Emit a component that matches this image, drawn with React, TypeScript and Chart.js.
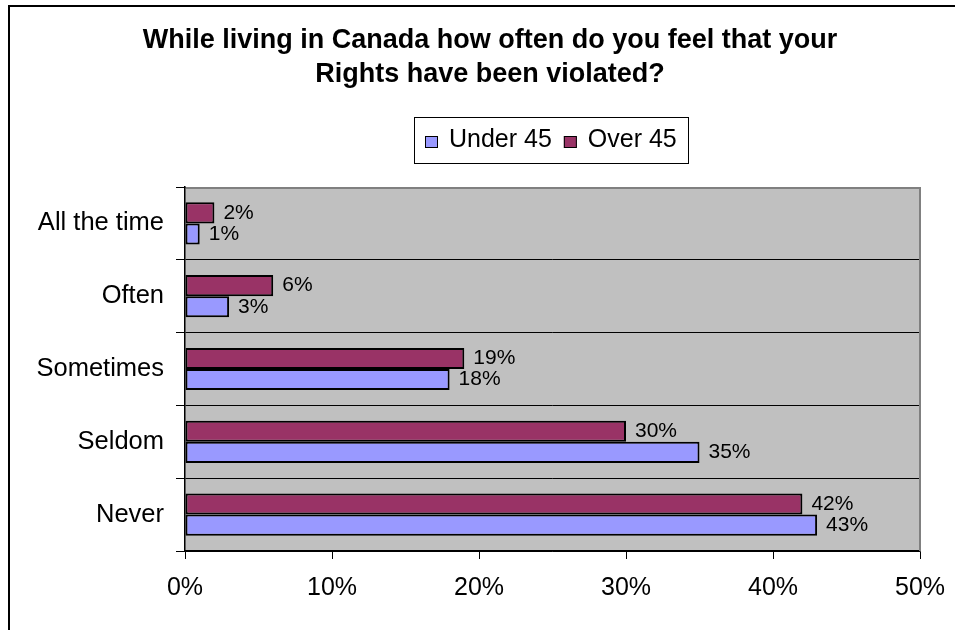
import React, { useEffect, useRef } from "react";
import { Chart, registerables } from "chart.js";

Chart.register(...registerables);

// ---- data ----
const categories = ["All the time", "Often", "Sometimes", "Seldom", "Never"];
const over45 = [2, 6, 19, 30, 42];
const under45 = [1, 3, 18, 35, 43];
const seriesNames = ["Under 45", "Over 45"];
const xTickValues = [0, 10, 20, 30, 40, 50];
const titleLines = [
  "While living in Canada how often do you feel that your",
  "Rights have been violated?",
];

const FONT = '"Liberation Sans", Arial, Helvetica, sans-serif';
const COLOR_UNDER = "#9999FF";
const COLOR_OVER = "#993366";

const decorPlugin = {
  id: "decor",
  beforeDraw(chart: any) {
    const { ctx, chartArea: a } = chart;
    ctx.save();
    ctx.fillStyle = "#ffffff";
    ctx.fillRect(0, 0, chart.width, chart.height);
    // plot background
    ctx.fillStyle = "#C0C0C0";
    ctx.fillRect(a.left, a.top, a.right - a.left, a.bottom - a.top);
    // outer frame (left and top edges)
    ctx.fillStyle = "#000";
    ctx.fillRect(8, 5, 2, chart.height - 5);
    ctx.fillRect(8, 5, chart.width - 8, 2);
    // title
    ctx.font = `bold 27px ${FONT}`;
    ctx.textAlign = "center";
    ctx.textBaseline = "alphabetic";
    ctx.fillStyle = "#000";
    ctx.fillText(titleLines[0], 490, 48);
    ctx.fillText(titleLines[1], 490, 82);

    // legend
    const ds = chart.data.datasets;
    const entries = [ds[1], ds[0]];
    ctx.font = `25px ${FONT}`;
    const pad = 11, sw = 13, gap = 11, between = 12;
    const widths = entries.map((e: any) => ctx.measureText(e.label).width);
    const total = Math.round(pad + sw + gap + widths[0] + between + sw + gap + widths[1] + pad);
    const cx = 550.5;
    const left = Math.round(cx - total / 2);
    const top = 117, bottom = 163;
    ctx.strokeStyle = "#000";
    ctx.lineWidth = 1;
    ctx.fillStyle = "#fff";
    ctx.fillRect(left, top, total, bottom - top);
    ctx.strokeRect(left + 0.5, top + 0.5, total, bottom - top);
    let x = left + pad;
    ctx.textAlign = "left";
    entries.forEach((e: any, i: number) => {
      ctx.fillStyle = e.backgroundColor;
      ctx.fillRect(x, 136, sw, 12);
      ctx.strokeStyle = "#000";
      ctx.strokeRect(x + 0.5, 136.5, sw - 1, 11);
      x += sw + gap;
      ctx.fillStyle = "#000";
      ctx.fillText(e.label, x, 147);
      x += widths[i] + between;
    });
    ctx.restore();
  },
  afterDatasetsDraw(chart: any) {
    const ctx = chart.ctx;
    ctx.save();
    ctx.font = `21px ${FONT}`;
    ctx.fillStyle = "#000";
    ctx.textBaseline = "middle";
    ctx.textAlign = "left";
    chart.data.datasets.forEach((d: any, i: number) => {
      chart.getDatasetMeta(i).data.forEach((bar: any, j: number) => {
        ctx.fillText(d.data[j] + "%", bar.x + 9, bar.y);
      });
    });
    ctx.restore();
  },
  afterDraw(chart: any) {
    const { ctx, chartArea: a } = chart;
    ctx.save();
    ctx.fillStyle = "#808080";
    ctx.fillRect(a.left + 1, a.top, a.right - a.left, 2);
    ctx.fillRect(a.right - 1, a.top, 2, a.bottom - a.top);
    ctx.restore();
  },
};

export default function App() {
  const ref = useRef<HTMLCanvasElement | null>(null);
  useEffect(() => {
    if (!ref.current) return;
    const chart = new Chart(ref.current, {
      type: "bar",
      data: {
        labels: categories,
        datasets: [
          {
            label: seriesNames[1],
            data: over45,
            backgroundColor: COLOR_OVER,
            borderColor: "#000",
            borderWidth: 2,
            borderSkipped: false,
            categoryPercentage: 0.58,
            barPercentage: 1,
          },
          {
            label: seriesNames[0],
            data: under45,
            backgroundColor: COLOR_UNDER,
            borderColor: "#000",
            borderWidth: 2,
            borderSkipped: false,
            categoryPercentage: 0.58,
            barPercentage: 1,
          },
        ],
      },
      options: {
        indexAxis: "y",
        responsive: false,
        animation: false,
        layout: { padding: { top: 187, right: 35, bottom: 0, left: 0 } },
        plugins: {
          legend: { display: false },
          title: { display: false },
          tooltip: { enabled: false },
        },
        scales: {
          y: {
            type: "category",
            grid: {
              color: "#000",
              lineWidth: 1,
              tickLength: 9,
              offset: true,
              drawOnChartArea: true,
            },
            border: { color: "#000", width: 1.5 },
            ticks: {
              color: "#000",
              font: { family: FONT, size: 25.5 },
              padding: 12,
            },
            afterFit: (s: any) => {
              s.width = 185;
            },
          },
          x: {
            type: "linear",
            min: 0,
            max: 50,
            afterBuildTicks: (s: any) => {
              s.ticks = xTickValues.map((v) => ({ value: v }));
            },
            ticks: {
              color: "#000",
              font: { family: FONT, size: 25 },
              padding: 14,
              callback: (v: any) => v + "%",
            },
            grid: {
              drawOnChartArea: false,
              color: "#000",
              tickLength: 8,
            },
            border: { color: "#000", width: 1.5 },
            afterFit: (s: any) => {
              s.height = 79;
              s.paddingLeft = 0;
              s.paddingRight = 0;
            },
          },
        },
      },
      plugins: [decorPlugin],
    } as any);
    return () => chart.destroy();
  }, []);
  return (
    <div style={{ position: "absolute", left: 0, top: 0, width: 955, height: 630 }}>
      <canvas ref={ref} width={955} height={630} style={{ display: "block" }} />
    </div>
  );
}
